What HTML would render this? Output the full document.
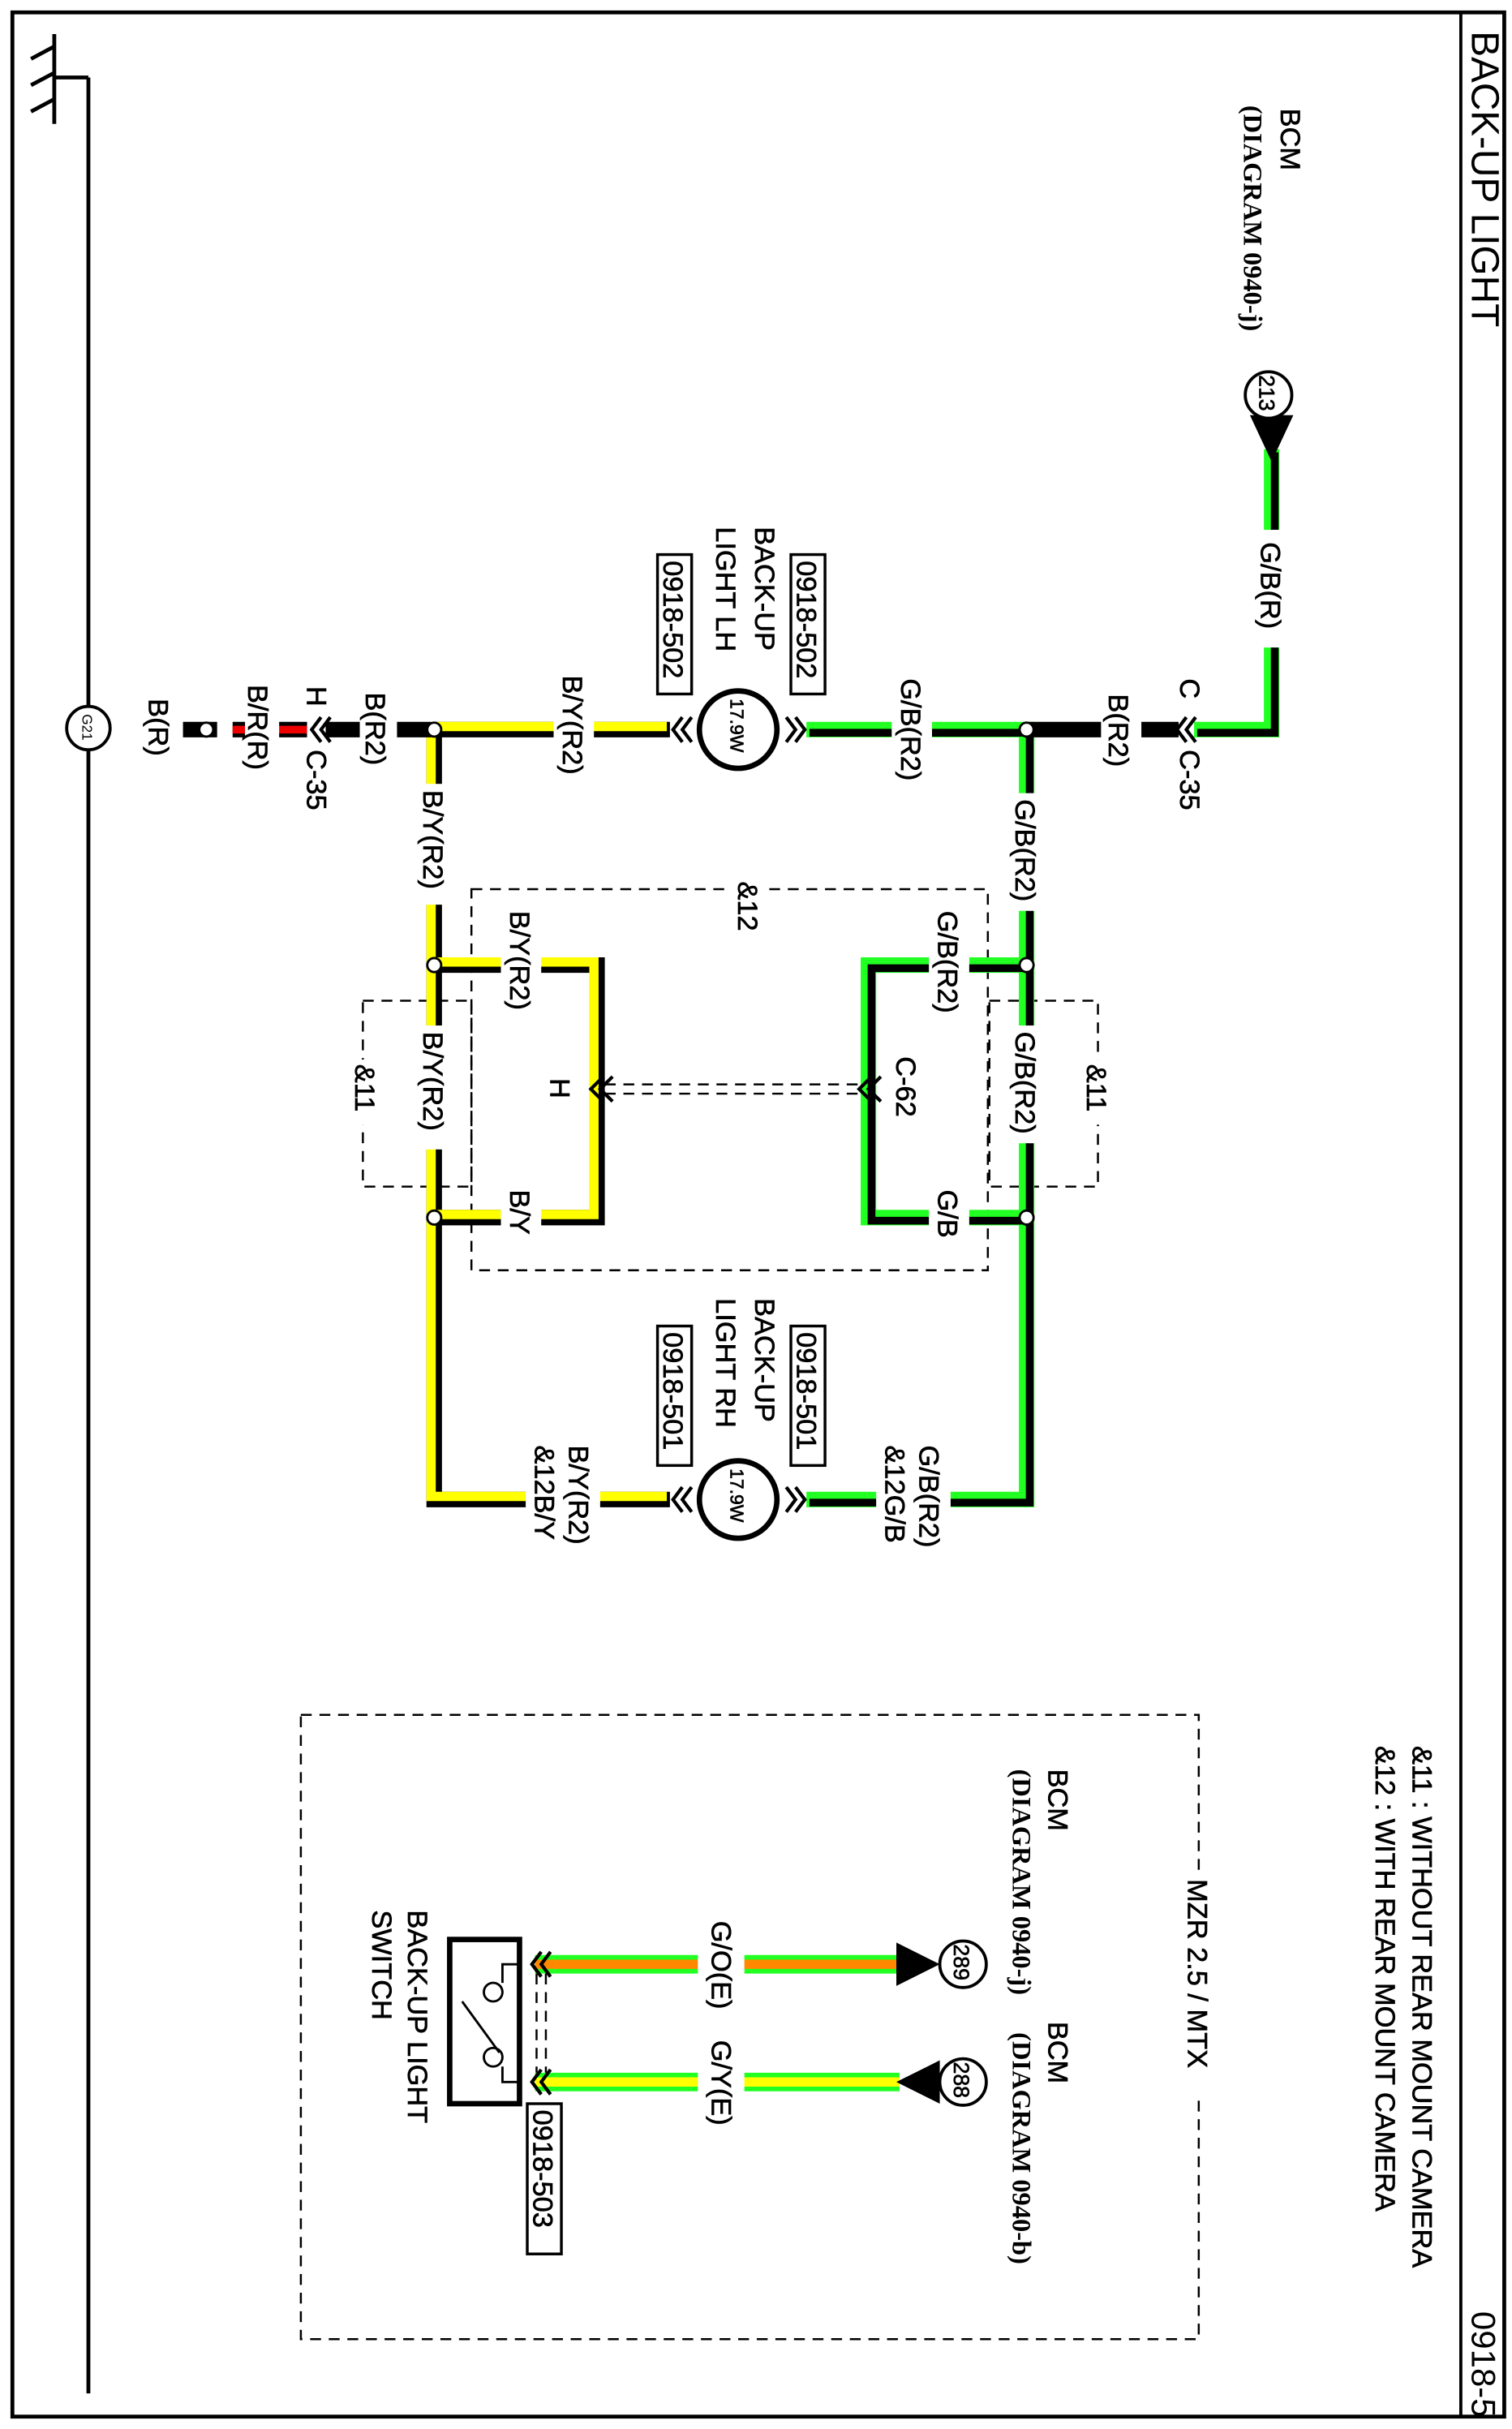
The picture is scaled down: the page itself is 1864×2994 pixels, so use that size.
<!DOCTYPE html>
<html><head><meta charset="utf-8"><style>
html,body{margin:0;padding:0;background:#fff}
svg{display:block}
text{font-family:"Liberation Sans",Arial,sans-serif;font-size:18px;fill:#000;stroke:#000;stroke-width:0.35}
.s{font-family:"Liberation Serif",serif;font-weight:bold;stroke-width:0}
</style></head><body>
<svg width="1864" height="2994" viewBox="0 0 975 1568" preserveAspectRatio="none" xmlns="http://www.w3.org/2000/svg">
<rect x="8" y="8" width="962" height="1552" fill="none" stroke="#000" stroke-width="2.5"/>
<line x1="942" y1="8" x2="942" y2="1560" stroke="#000" stroke-width="2"/>
<text transform="translate(949,20) rotate(90)" style="font-size:25px;stroke-width:0">BACK-UP LIGHT</text>
<text transform="translate(949,1492) rotate(90)" style="font-size:22px;stroke-width:0">0918-5</text>

<!-- ground -->
<g stroke="#000" stroke-width="2.5" fill="none">
<line x1="57" y1="50" x2="57" y2="1545"/>
<line x1="35" y1="50" x2="57" y2="50"/>
<line x1="35" y1="22" x2="35" y2="80"/>
<line x1="35" y1="30" x2="20" y2="38"/>
<line x1="35" y1="47" x2="20" y2="55"/>
<line x1="35" y1="64" x2="20" y2="72"/>
</g>
<circle cx="57" cy="470" r="14" fill="#fff" stroke="#000" stroke-width="2"/>
<text transform="translate(53,461) rotate(90)" style="font-size:9px;stroke-width:0">G21</text>

<!-- dashed boxes -->
<g stroke="#000" stroke-width="1.3" fill="none" stroke-dasharray="7,5">
<rect x="304" y="574" width="333" height="246"/>
<rect x="234" y="646" width="70" height="120"/>
<rect x="638" y="646" width="70" height="120"/>
<rect x="194" y="1107" width="579" height="403"/>
<line x1="390" y1="700" x2="555" y2="700"/>
<line x1="390" y1="706" x2="555" y2="706"/>
<line x1="346" y1="1274" x2="346" y2="1338"/>
<line x1="352" y1="1274" x2="352" y2="1338"/>
</g>

<g fill="none" stroke-linecap="butt">
<path d="M280,471 H432 M280,471 V968 H432 M280,623 H385 V786 H280" stroke="#000" stroke-width="10"/>
<path d="M280,471 H432 M280,471 V968 H432 M280,623 H385 V786 H280" stroke="#ff0" stroke-width="6" transform="translate(-2,-2)"/>
<path d="M520,471 H662 V968 H520 M662,623 H560 V786 H662 M770,471 H820 V290" stroke="#2f2" stroke-width="10"/>
<path d="M520,471 H662 V968 H520 M662,623 H560 V786 H662 M770,471 H820 V290" stroke="#000" stroke-width="5" transform="translate(2,2)"/>
<path d="M662,471 H760 M210,471 H278 M118,471 H140" stroke="#000" stroke-width="10"/>
<path d="M150,471 H198" stroke="#000" stroke-width="10"/>
<path d="M150,471 H198" stroke="#e00" stroke-width="5"/>
<path d="M345,1268 H580 M345,1344 H580" stroke="#2f2" stroke-width="12"/>
<path d="M345,1268 H580" stroke="#f80" stroke-width="6"/>
<path d="M345,1344 H580" stroke="#ff0" stroke-width="6"/>
</g>
<!-- label gaps -->
<g fill="#fff">
<rect x="808" y="342" width="24" height="76"/>
<rect x="575" y="462" width="26" height="18"/>
<rect x="357" y="462" width="26" height="18"/>
<rect x="710" y="462" width="26" height="18"/>
<rect x="232" y="462" width="24" height="18"/>
<rect x="158" y="462" width="22" height="18"/>
<rect x="650" y="512" width="24" height="76"/>
<rect x="650" y="662" width="24" height="76"/>
<rect x="268" y="506" width="24" height="78"/>
<rect x="268" y="662" width="24" height="80"/>
<rect x="323" y="614" width="26" height="18"/>
<rect x="323" y="777" width="26" height="18"/>
<rect x="599" y="614" width="26" height="18"/>
<rect x="599" y="777" width="26" height="18"/>
<rect x="565" y="959" width="48" height="18"/>
<rect x="339" y="959" width="48" height="18"/>
<rect x="450" y="1258" width="30" height="20"/>
<rect x="450" y="1334" width="30" height="20"/>
<rect x="762" y="1208" width="24" height="148"/>
<rect x="470" y="566" width="26" height="32"/>
<rect x="224" y="684" width="26" height="42"/>
<rect x="696" y="684" width="26" height="42"/>
</g>
<g fill="#fff" stroke="#000" stroke-width="1.5">
<circle cx="133" cy="471" r="4.5"/>
<circle cx="280" cy="471" r="4.5"/><circle cx="662" cy="471" r="4.5"/>
<circle cx="280" cy="623" r="4.5"/><circle cx="280" cy="786" r="4.5"/>
<circle cx="662" cy="623" r="4.5"/><circle cx="662" cy="786" r="4.5"/>
</g>
<g fill="none" stroke="#000" stroke-width="2.2">
<path d="M440,463 L434,471 L440,479 M446,463 L440,471 L446,479"/>
<path d="M440,960 L434,968 L440,976 M446,960 L440,968 L446,976"/>
<path d="M507,463 L513,471 L507,479 M513,463 L519,471 L513,479"/>
<path d="M507,960 L513,968 L507,976 M513,960 L519,968 L513,976"/>
<path d="M765,463 L759,471 L765,479 M771,463 L765,471 L771,479"/>
<path d="M207,463 L201,471 L207,479 M213,463 L207,471 L213,479"/>
<path d="M379,695 L387,703 L395,695 M379,701 L387,709 L395,701" transform="rotate(90 387 703)"/>
<path d="M552,695 L560,703 L568,695 M552,701 L560,709 L568,701" transform="rotate(90 560 703)"/>
<path d="M349,1260 L343,1268 L349,1276 M355,1260 L349,1268 L355,1276"/>
<path d="M349,1336 L343,1344 L349,1352 M355,1336 L349,1344 L355,1352"/>
</g>
<circle cx="476" cy="471" r="25" fill="#fff" stroke="#000" stroke-width="3.5"/>
<circle cx="476" cy="968" r="25" fill="#fff" stroke="#000" stroke-width="3.5"/>
<text transform="translate(471,451) rotate(90)" style="font-size:12px">17.9W</text>
<text transform="translate(471,948) rotate(90)" style="font-size:12px">17.9W</text>
<polygon points="806,268 834,268 820,298" fill="#000"/>
<circle cx="818" cy="255" r="15" fill="#fff" stroke="#000" stroke-width="2"/>
<text transform="translate(812,242) rotate(90)" style="font-size:14px">213</text>
<polygon points="578,1254 578,1282 606,1268" fill="#000"/>
<polygon points="606,1330 606,1358 578,1344" fill="#000"/>
<circle cx="621" cy="1268" r="15" fill="#fff" stroke="#000" stroke-width="2"/>
<circle cx="621" cy="1344" r="15" fill="#fff" stroke="#000" stroke-width="2"/>
<text transform="translate(615,1255) rotate(90)" style="font-size:14px">289</text>
<text transform="translate(615,1331) rotate(90)" style="font-size:14px">288</text>
<rect x="290" y="1252" width="45" height="106" fill="#fff" stroke="#000" stroke-width="3.5"/>
<g fill="none" stroke="#000" stroke-width="1.5">
<path d="M335,1268 H324 V1280"/><circle cx="318" cy="1286" r="6"/>
<path d="M335,1344 H324 V1334"/><circle cx="318" cy="1328" r="6"/>
<line x1="322" y1="1325" x2="298" y2="1292"/>
</g>
<g fill="#fff" stroke="#000" stroke-width="1.8">
<rect x="510" y="358" width="22" height="90"/><rect x="424" y="358" width="22" height="90"/>
<rect x="510" y="856" width="22" height="90"/><rect x="424" y="856" width="22" height="90"/>
<rect x="340" y="1358" width="22" height="97"/>
</g>
<g>
<text transform="translate(514,362) rotate(90)">0918-502</text>
<text transform="translate(428,362) rotate(90)">0918-502</text>
<text transform="translate(514,860) rotate(90)">0918-501</text>
<text transform="translate(428,860) rotate(90)">0918-501</text>
<text transform="translate(344,1362) rotate(90)">0918-503</text>

<text transform="translate(826,70) rotate(90)">BCM</text>
<text class="s" transform="translate(802,68) rotate(90)" style="font-size:17px">(DIAGRAM 0940-j)</text>
<text transform="translate(813,350) rotate(90)">G/B(R)</text>
<text transform="translate(761,438) rotate(90)">C</text>
<text transform="translate(761,484) rotate(90)">C-35</text>
<text transform="translate(715,448) rotate(90)">B(R2)</text>
<text transform="translate(581,438) rotate(90)">G/B(R2)</text>
<text transform="translate(487,340) rotate(90)">BACK-UP</text>
<text transform="translate(462,340) rotate(90)">LIGHT LH</text>
<text transform="translate(363,436) rotate(90)">B/Y(R2)</text>
<text transform="translate(236,447) rotate(90)">B(R2)</text>
<text transform="translate(198,443) rotate(90)">H</text>
<text transform="translate(198,484) rotate(90)">C-35</text>
<text transform="translate(160,442) rotate(90)">B/R(R)</text>
<text transform="translate(96,451) rotate(90)">B(R)</text>

<text transform="translate(655,516) rotate(90)">G/B(R2)</text>
<text transform="translate(655,666) rotate(90)">G/B(R2)</text>
<text transform="translate(273,510) rotate(90)">B/Y(R2)</text>
<text transform="translate(273,666) rotate(90)">B/Y(R2)</text>
<text transform="translate(476,569) rotate(90)">&amp;12</text>
<text transform="translate(229,687) rotate(90)">&amp;11</text>
<text transform="translate(701,687) rotate(90)">&amp;11</text>
<text transform="translate(329,588) rotate(90)">B/Y(R2)</text>
<text transform="translate(329,768) rotate(90)">B/Y</text>
<text transform="translate(355,696) rotate(90)">H</text>
<text transform="translate(605,588) rotate(90)">G/B(R2)</text>
<text transform="translate(605,768) rotate(90)">G/B</text>
<text transform="translate(578,682) rotate(90)">C-62</text>

<text transform="translate(487,838) rotate(90)">BACK-UP</text>
<text transform="translate(462,838) rotate(90)">LIGHT RH</text>
<text transform="translate(593,933) rotate(90)">G/B(R2)</text>
<text transform="translate(571,933) rotate(90)">&amp;12G/B</text>
<text transform="translate(367,933) rotate(90)">B/Y(R2)</text>
<text transform="translate(345,933) rotate(90)">&amp;12B/Y</text>

<text transform="translate(911,1127) rotate(90)">&amp;11 : WITHOUT REAR MOUNT CAMERA</text>
<text transform="translate(887,1127) rotate(90)">&amp;12 : WITH REAR MOUNT CAMERA</text>
<text transform="translate(766,1213) rotate(90)">MZR 2.5 / MTX</text>
<text transform="translate(676,1142) rotate(90)">BCM</text>
<text class="s" transform="translate(653,1142) rotate(90)" style="font-size:17px">(DIAGRAM 0940-j)</text>
<text transform="translate(676,1305) rotate(90)">BCM</text>
<text class="s" transform="translate(653,1312) rotate(90)" style="font-size:17px">(DIAGRAM 0940-b)</text>
<text transform="translate(459,1240) rotate(90)">G/O(E)</text>
<text transform="translate(459,1317) rotate(90)">G/Y(E)</text>
<text transform="translate(263,1233) rotate(90)">BACK-UP LIGHT</text>
<text transform="translate(240,1233) rotate(90)">SWITCH</text>
</g>
</svg>
</body></html>
